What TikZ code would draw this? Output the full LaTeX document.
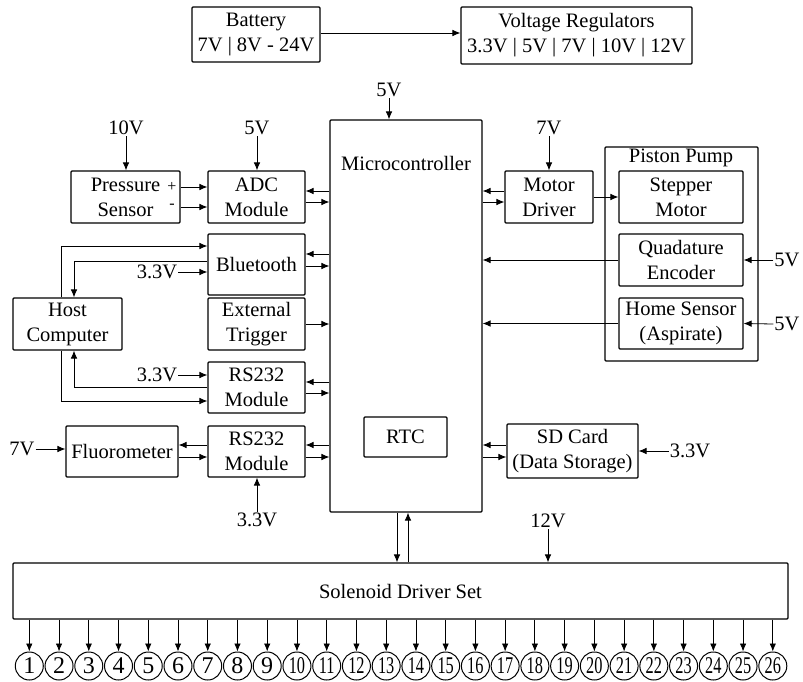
\documentclass[tikz,border=0pt]{standalone}
\usepackage{fontspec}
\setmainfont{Liberation Serif}
\usepackage{graphicx}
\usetikzlibrary{arrows.meta}
\begin{document}
\begin{tikzpicture}[x=1pt,y=-1pt,
  every node/.style={font=\fontsize{20.5}{25}\selectfont},
  box/.style={draw, line width=1.1pt, rounded corners=1pt, align=center, inner sep=0pt},
  lbl/.style={inner sep=1pt},
  sign/.style={inner sep=0pt, font=\fontsize{16}{16}\selectfont},
  arr/.style={line width=0.8pt, -{Latex[length=8pt,width=6.5pt]}},
  num/.style={draw, circle, line width=1pt, minimum size=28pt, inner sep=0pt, font=\fontsize{24}{24}\selectfont}
]
\useasboundingbox (0,0) rectangle (803,682);
% top
\node[box, minimum width=128pt, minimum height=55pt] (bat) at (256,34.5) {Battery\\7V | 8V - 24V};
\node[box, minimum width=231pt, minimum height=57pt] (vr) at (576.5,35.5) {Voltage Regulators\\3.3V | 5V | 7V | 10V | 12V};
\draw[arr] (bat.east |- 0,33) -- (vr.west |- 0,33);
% microcontroller
\node[box, minimum width=152pt, minimum height=392pt] (mc) at (406,316) {};
\node (mctext) at (406,163) {Microcontroller};
\node[box, minimum width=83pt, minimum height=40pt] (rtc) at (405.5,437) {RTC};
\node[lbl] (v5mc) at (389,90) {5V};
\draw[arr] (v5mc.south) -- (v5mc.south |- mc.north);
% right side
\node[box, minimum width=88pt, minimum height=52pt] (md) at (549,197) {Motor\\Driver};
\node[box, minimum width=153pt, minimum height=214pt] (pp) at (681.5,254) {};
\node (pptext) at (681,158) {Piston Pump};
\node[box, minimum width=124pt, minimum height=52pt] (sm) at (681,197) {Stepper\\Motor};
\node[box, minimum width=124pt, minimum height=52pt] (qe) at (681,260) {Quadature\\Encoder};
\node[box, minimum width=124pt, minimum height=51pt] (hs) at (681,323.5) {Home Sensor\\(Aspirate)};
\node[box, minimum width=131pt, minimum height=54pt] (sd) at (572.5,451) {SD Card\\(Data Storage)};
\node[lbl] (v7md) at (549,128) {7V};
\node[lbl] (v5qe) at (787,260) {5V};
\node[lbl] (v5hs) at (787,324) {5V};
\node[lbl] (v33sd) at (690,451) {3.3V};
\draw[arr] (v7md.south) -- (v7md.south |- md.north);
\draw[arr] (md.west |- 0,191) -- (mc.east |- 0,191);
\draw[arr] (mc.east |- 0,202) -- (md.west |- 0,202);
\draw[arr] (md.east |- 0,197) -- (sm.west |- 0,197);
\draw[arr] (qe.west) -- (mc.east |- qe.west);
\draw[arr] (hs.west) -- (mc.east |- hs.west);
\draw[arr] (v5qe.west) -- (qe.east);
\draw[arr] (v5hs.west) -- (hs.east);
\draw[arr] (sd.west |- 0,445) -- (mc.east |- 0,445);
\draw[arr] (mc.east |- 0,457) -- (sd.west |- 0,457);
\draw[arr] (v33sd.west) -- (sd.east);
% left side
\node[box, minimum width=109pt, minimum height=52pt] (ps) at (125.5,197) {Pressure\\Sensor};
\node[sign] (plus) at (172,187) {+};
\node[sign] (minus) at (172,206) {-};
\node[box, minimum width=97pt, minimum height=52pt] (adc) at (256.5,197) {ADC\\Module};
\node[box, minimum width=97pt, minimum height=61pt] (bt) at (256.5,264.5) {Bluetooth};
\node[box, minimum width=109pt, minimum height=52pt] (host) at (67.5,324) {Host\\Computer};
\node[box, minimum width=97pt, minimum height=52pt] (et) at (256.5,324) {External\\Trigger};
\node[box, minimum width=97pt, minimum height=51pt] (rs1) at (256.5,387.5) {RS232\\Module};
\node[box, minimum width=97pt, minimum height=51pt] (rs2) at (256.5,451.5) {RS232\\Module};
\node[box, minimum width=112pt, minimum height=51pt] (fl) at (122,451.5) {Fluorometer};
\node[lbl] (v10) at (126,128) {10V};
\node[lbl] (v5adc) at (257,128) {5V};
\node[lbl] (v33bt) at (157,272) {3.3V};
\node[lbl] (v33rs1) at (157,375) {3.3V};
\node[lbl] (v7fl) at (22,449) {7V};
\node[lbl] (v33rs2) at (257,520) {3.3V};
\draw[arr] (v10.south) -- (v10.south |- ps.north);
\draw[arr] (v5adc.south) -- (v5adc.south |- adc.north);
\draw[arr] (ps.east |- 0,187) -- (adc.west |- 0,187);
\draw[arr] (ps.east |- 0,207) -- (adc.west |- 0,207);
\draw[arr] (mc.west |- 0,191) -- (adc.east |- 0,191);
\draw[arr] (adc.east |- 0,202) -- (mc.west |- 0,202);
\draw[arr] (mc.west |- 0,254) -- (bt.east |- 0,254);
\draw[arr] (bt.east |- 0,266) -- (mc.west |- 0,266);
\draw[arr] (et.east |- 0,324) -- (mc.west |- 0,324);
\draw[arr] (mc.west |- 0,382) -- (rs1.east |- 0,382);
\draw[arr] (rs1.east |- 0,393) -- (mc.west |- 0,393);
\draw[arr] (mc.west |- 0,445) -- (rs2.east |- 0,445);
\draw[arr] (rs2.east |- 0,457) -- (mc.west |- 0,457);
\draw[arr] (rs2.west |- 0,445) -- (fl.east |- 0,445);
\draw[arr] (fl.east |- 0,457) -- (rs2.west |- 0,457);
\draw[arr] (v33bt.east |- 0,272) -- (bt.west |- 0,272);
\draw[arr] (v33rs1.east |- 0,375) -- (rs1.west |- 0,375);
\draw[arr] (v7fl.east |- 0,449) -- (fl.west |- 0,449);
\draw[arr] (v33rs2.north) -- (v33rs2.north |- rs2.south);
\draw[arr] (host.north -| 61,0) |- (bt.west |- 0,246);
\draw[arr] (bt.west |- 0,261) -| (host.north -| 74,0);
\draw[arr] (rs1.west |- 0,387) -| (host.south -| 74,0);
\draw[arr] (host.south -| 61,0) |- (rs1.west |- 0,401);
% solenoid
\node[box, minimum width=775pt, minimum height=56pt] (sol) at (400.5,591) {Solenoid Driver Set};
\node[lbl] (v12) at (548,521) {12V};
\draw[arr] (v12.south) -- (v12.south |- sol.north);
\draw[arr] (mc.south -| 397,0) -- (sol.north -| 397,0);
\draw[arr] (sol.north -| 408,0) -- (mc.south -| 408,0);
\foreach \i in {1,...,26} {
  \pgfmathsetmacro{\xx}{29.3+(\i-1)*29.74}
  \ifnum\i<10
    \node[num] (c\i) at (\xx,666) {\i};
  \else
    \node[num] (c\i) at (\xx,666) {\scalebox{0.68}[1]{\i}};
  \fi
  \draw[arr] (sol.south -| c\i.north) -- (c\i.north);
}
\end{tikzpicture}
\end{document}
